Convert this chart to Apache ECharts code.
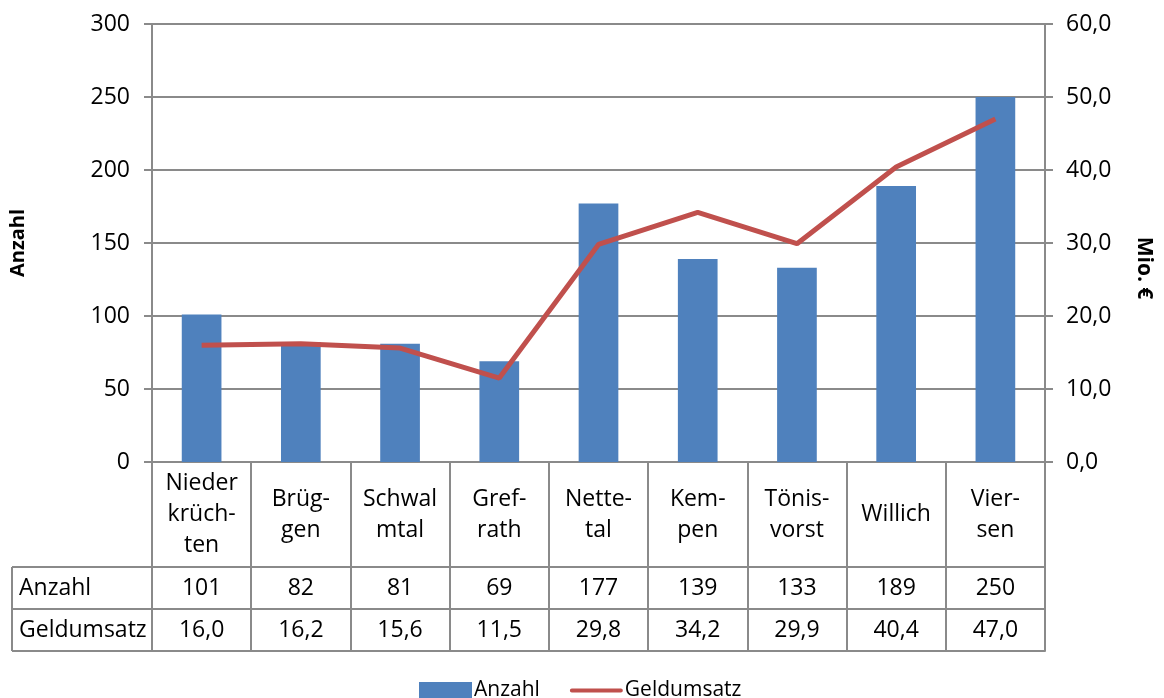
<!DOCTYPE html>
<html>
<head>
<meta charset="utf-8">
<script src="https://cdn.jsdelivr.net/npm/echarts@6/dist/echarts.min.js"></script>
<style>html,body{margin:0;padding:0;background:#fff;}#c{width:1164px;height:698px;}</style>
</head>
<body>
<div id="c"></div>
<script>
const categories = ['Nieder\nkrüch-\nten', 'Brüg-\ngen', 'Schwal\nmtal', 'Gref-\nrath', 'Nette-\ntal', 'Kem-\npen', 'Tönis-\nvorst', 'Willich', 'Vier-\nsen'];
const anzahl = [101, 82, 81, 69, 177, 139, 133, 189, 250];
const geldumsatz = [16.0, 16.2, 15.6, 11.5, 29.8, 34.2, 29.9, 40.4, 47.0];
const rowLabels = ['Anzahl', 'Geldumsatz'];
const leftTicks = [0, 300, 50];
const rightTicks = [0, 60, 10];

const FONT = 'Open Sans';
const GRAY = '#8a8a8a';
const FS = 23;
const gridL = 152, gridR = 1045, gridT = 24, gridB = 462;
const headH = 105, rowH = 42;
const tableLeft = 12;
const fmt = v => v.toFixed(1).replace('.', ',');

const chart = echarts.init(document.getElementById('c'));
const baseX = {
  type: 'category', position: 'bottom', gridIndex: 0, boundaryGap: true,
  axisTick: { show: false }, splitLine: { show: false },
  axisLine: { show: true, onZero: false, lineStyle: { color: GRAY, width: 2 } }
};
const hLine = y => ({ type: 'line', z: 10, shape: { x1: tableLeft, y1: y, x2: gridR, y2: y }, style: { stroke: GRAY, lineWidth: 2 } });
chart.setOption({
  animation: false,
  textStyle: { fontFamily: FONT, color: '#000' },
  grid: { left: gridL, right: 1164 - gridR, top: gridT, bottom: 698 - gridB, outerBoundsMode: 'none', containLabel: false },
  legend: {
    left: 419, top: 680, padding: 0, itemWidth: 53, itemHeight: 17, itemGap: 30,
    textStyle: { fontFamily: FONT, fontSize: 21, color: '#000', padding: [0, 0, 0, -3] },
    data: [
      { name: 'Anzahl', icon: 'rect' },
      { name: 'Geldumsatz', icon: 'path://M0,0 L0.01,0 M0,17 L0.01,17 M2,6.5 L51,6.5 Q53,6.5 53,8.5 Q53,10.5 51,10.5 L2,10.5 Q0,10.5 0,8.5 Q0,6.5 2,6.5 Z', itemStyle: { color: '#C0504D' } }
    ]
  },
  xAxis: [
    Object.assign({}, baseX, {
      data: categories,
      axisTick: { show: true, length: headH + 2 * rowH, inside: false, lineStyle: { color: GRAY, width: 2 } },
      axisLabel: { interval: 0, fontSize: FS, lineHeight: 31, verticalAlign: 'middle', margin: headH / 2, color: '#000', fontFamily: FONT, align: 'center' }
    }),
    Object.assign({}, baseX, {
      offset: headH, data: anzahl.map(String),
      axisLabel: { interval: 0, fontSize: FS, verticalAlign: 'middle', margin: rowH / 2, color: '#000', fontFamily: FONT }
    }),
    Object.assign({}, baseX, {
      offset: headH + rowH, data: geldumsatz.map(fmt),
      axisLabel: { interval: 0, fontSize: FS, verticalAlign: 'middle', margin: rowH / 2, color: '#000', fontFamily: FONT }
    }),
    Object.assign({}, baseX, {
      offset: headH + 2 * rowH, data: categories.map(() => ''),
      axisLabel: { show: false }
    })
  ],
  yAxis: [
    {
      type: 'value', min: leftTicks[0], max: leftTicks[1], interval: leftTicks[2], position: 'left',
      name: 'Anzahl', nameLocation: 'middle', nameRotate: 90, nameGap: 124,
      nameTextStyle: { fontFamily: FONT, fontSize: 20, fontWeight: 'bold', color: '#000' },
      axisLine: { show: true, lineStyle: { color: GRAY, width: 2 } },
      axisTick: { show: true, length: 8, lineStyle: { color: GRAY, width: 2 } },
      axisLabel: { fontSize: FS, color: '#000', margin: 22, fontFamily: FONT },
      splitLine: { show: true, lineStyle: { color: GRAY, width: 2 } }
    },
    {
      type: 'value', min: rightTicks[0], max: rightTicks[1], interval: rightTicks[2], position: 'right',
      name: 'Mio. €', nameLocation: 'middle', nameRotate: -90, nameGap: 88,
      nameTextStyle: { fontFamily: FONT, fontSize: 21, fontWeight: 'bold', color: '#000', padding: [0, 0, 0, 50] },
      axisLine: { show: true, lineStyle: { color: GRAY, width: 2 } },
      axisTick: { show: true, length: 8, lineStyle: { color: GRAY, width: 2 } },
      axisLabel: { fontSize: FS, color: '#000', margin: 21, fontFamily: FONT, formatter: fmt },
      splitLine: { show: false }
    }
  ],
  series: [
    {
      name: 'Anzahl', type: 'bar', xAxisIndex: 0, yAxisIndex: 0, data: anzahl,
      barWidth: '40%', itemStyle: { color: '#4F81BD' }
    },
    {
      name: 'Geldumsatz', type: 'line', xAxisIndex: 0, yAxisIndex: 1, data: geldumsatz,
      symbol: 'none', showSymbol: false, lineStyle: { color: '#C0504D', width: 5 }, itemStyle: { color: '#C0504D' }
    }
  ],
  graphic: [
    hLine(gridB + headH),
    hLine(gridB + headH + rowH),
    hLine(gridB + headH + 2 * rowH),
    { type: 'line', shape: { x1: tableLeft, y1: gridB + headH, x2: tableLeft, y2: gridB + headH + 2 * rowH }, style: { stroke: GRAY, lineWidth: 2 } },
    { type: 'text', x: tableLeft + 7, y: gridB + headH + rowH / 2, style: { text: rowLabels[0], font: FS + 'px "' + FONT + '"', fill: '#000', verticalAlign: 'middle' } },
    { type: 'text', x: tableLeft + 7, y: gridB + headH + rowH * 1.5, style: { text: rowLabels[1], font: FS + 'px "' + FONT + '"', fill: '#000', verticalAlign: 'middle' } }
  ]
});
</script>
</body>
</html>
